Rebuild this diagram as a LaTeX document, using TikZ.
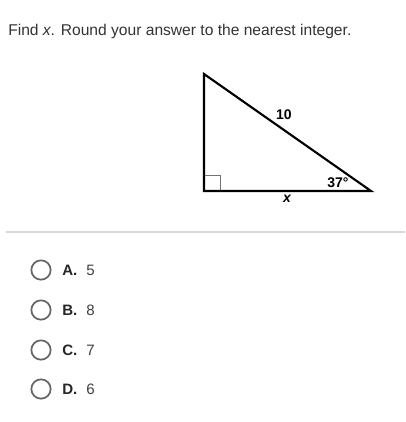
\documentclass[tikz,border=0pt]{standalone}
\usepackage{fontspec}
\setmainfont{Liberation Sans}
\usetikzlibrary{positioning}

\begin{document}
\begin{tikzpicture}[
        x=0.75pt, y=-0.75pt,
        question/.style={anchor=base west, inner sep=0pt, text=black!80, font=\fontsize{11.7}{14}\selectfont},
        side/.style={line width=1.6pt, line join=miter},
        tick/.style={draw=black!55, line width=0.6pt},
        measure/.style={inner sep=0pt, font=\bfseries\fontsize{10.5}{12}\selectfont},
        radio/.style={circle, draw=black!60, line width=1.3pt, minimum size=14.5pt, inner sep=0pt},
        letter/.style={anchor=base west, inner sep=0pt, font=\bfseries\fontsize{11.3}{13}\selectfont, text=black!85},
        answer/.style={anchor=base west, inner sep=0pt, font=\fontsize{11.3}{13}\selectfont, text=black!75}
    ]
        \useasboundingbox[fill=white] (0,0) rectangle (406,422);

        % QUESTION
        \node[question] (prompt) at (8,35) {Find \textit{x}. Round your answer to the nearest integer.};

        % TRIANGLE
        \coordinate (top) at (204,74);
        \coordinate (corner) at (204,191);
        \coordinate (tip) at (371,191);
        \draw[tick] (corner) ++(0,-16) -| ++(16,16);
        \draw[side] (top) -- (corner) -- (tip) -- cycle;

        \node[measure] (hyp) at (284,115) {10};
        \node[measure] (angle) at (338,183) {37\textdegree};
        \node[measure, font=\bfseries\itshape\fontsize{10.5}{12}\selectfont] (base) at (287,199) {x};

        % SEPARATOR
        \draw[black!15, line width=1pt] (6,232) -- (405,232);

        % CHOICES
        \foreach \y/\l/\v [count=\i] in {270/A/5, 310/B/8, 350/C/7, 389/D/6} {
            \node[radio] (opt\i) at (41,\y) {};
            \node[letter] (lab\i) at (62,\y+5) {\l.};
            \node[answer] (val\i) at (86,\y+5) {\v};
        }
    \end{tikzpicture}
\end{document}
